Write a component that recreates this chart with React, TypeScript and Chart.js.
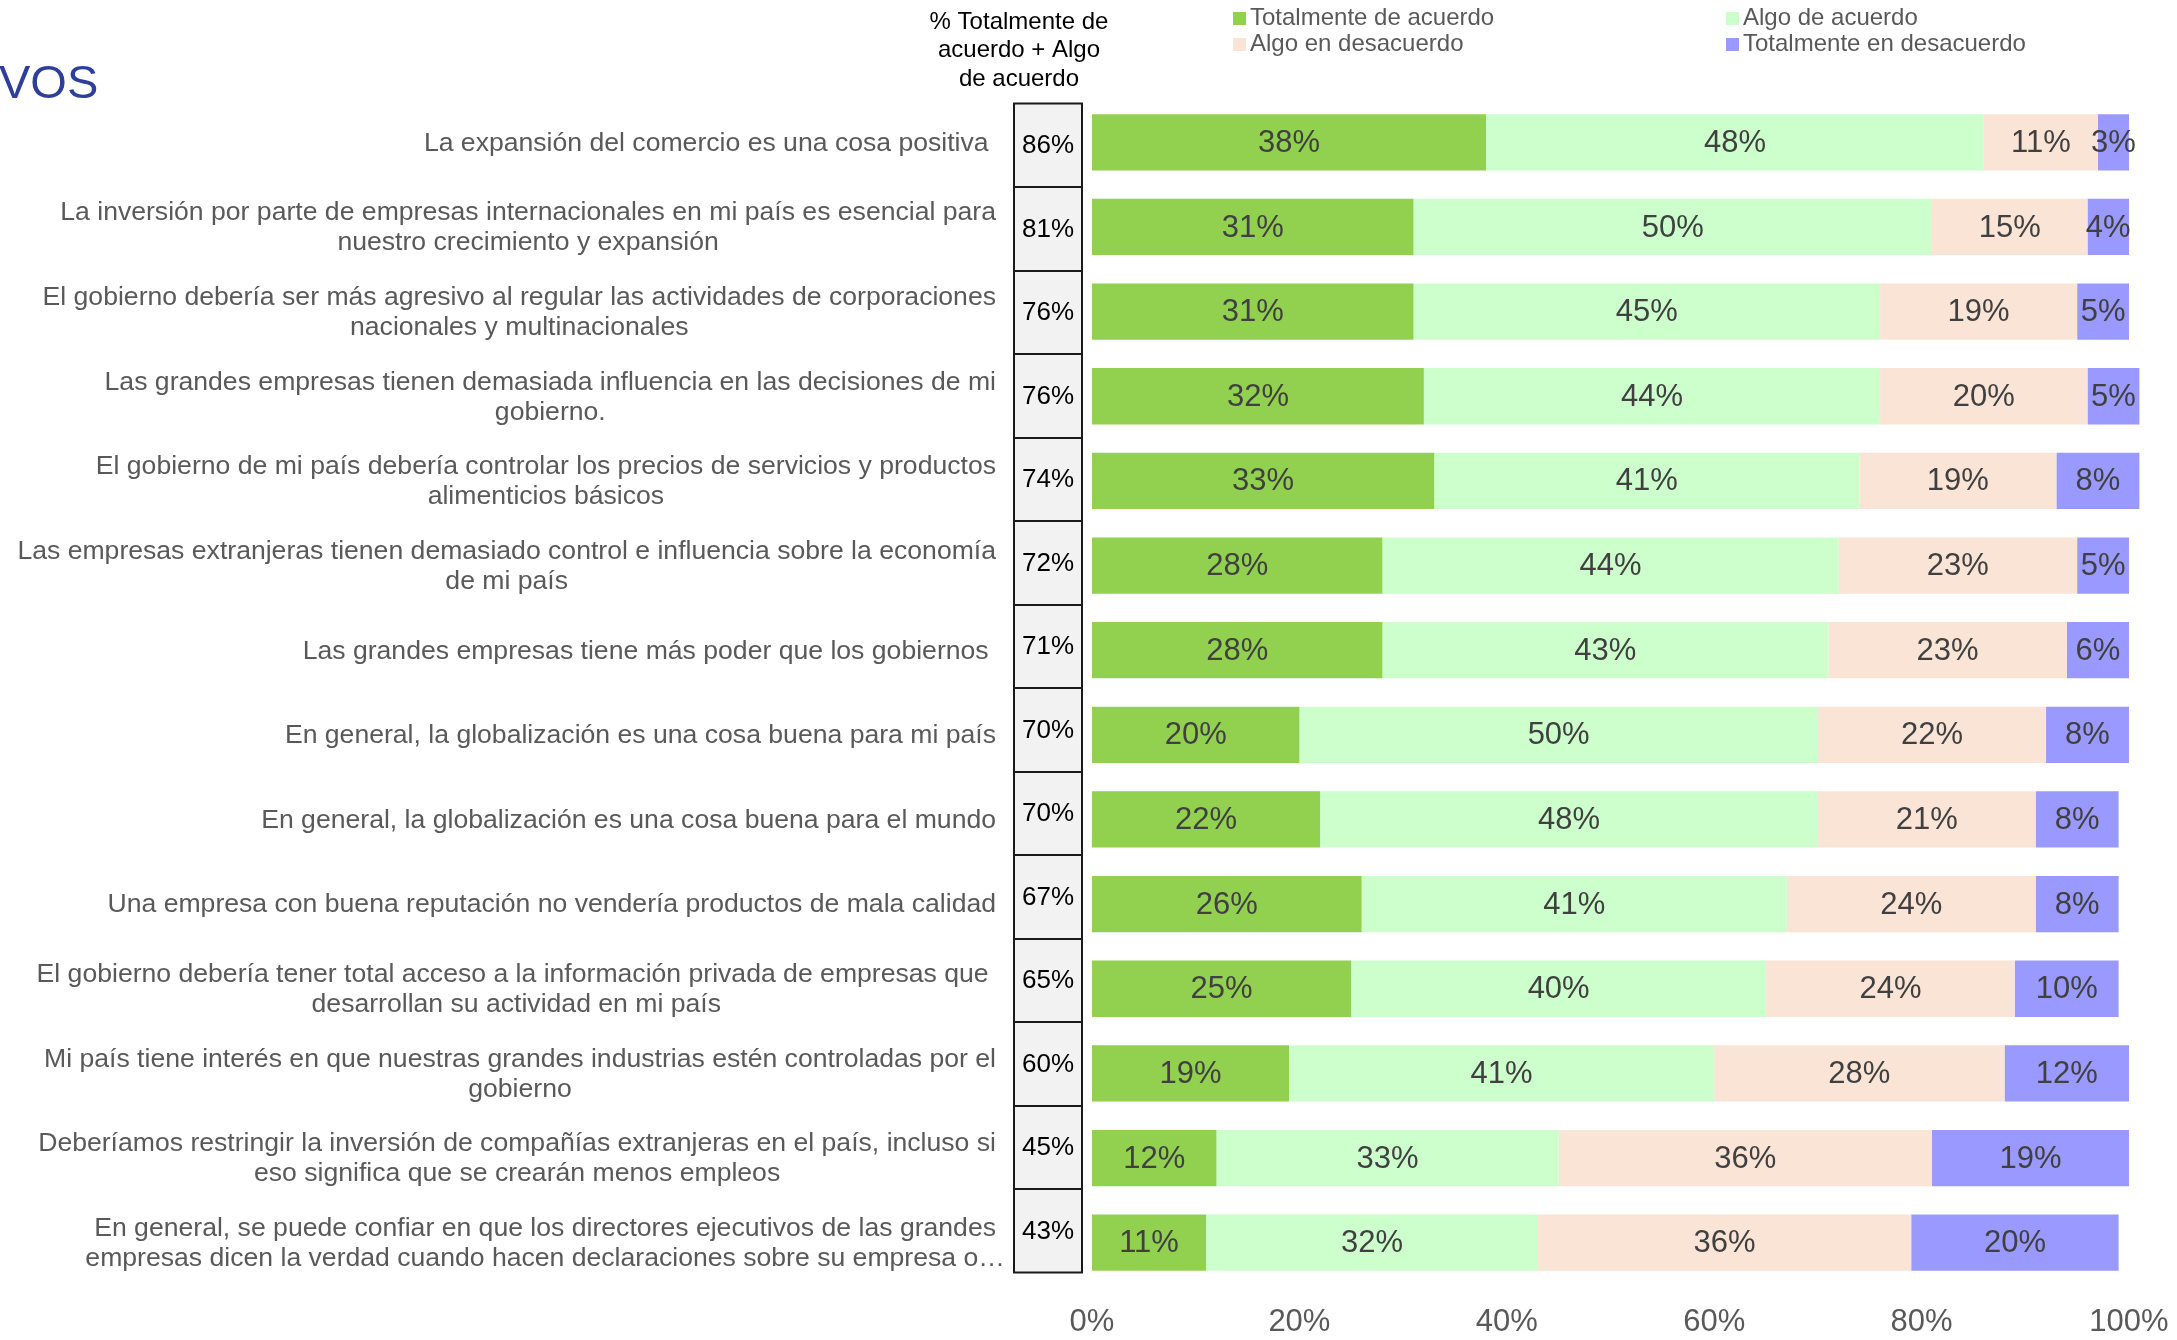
import React, { useEffect, useRef } from "react";
import { Chart, registerables } from "chart.js";

Chart.register(...registerables);

const FONT = '"Liberation Sans", Arial, Helvetica, sans-serif';

const categories: string[][] = [
  ["La expansión del comercio es una cosa positiva "],
  ["La inversión por parte de empresas internacionales en mi país es esencial para", "nuestro crecimiento y expansión"],
  ["El gobierno debería ser más agresivo al regular las actividades de corporaciones", "nacionales y multinacionales"],
  ["Las grandes empresas tienen demasiada influencia en las decisiones de mi", "gobierno."],
  ["El gobierno de mi país debería controlar los precios de servicios y productos", "alimenticios básicos"],
  ["Las empresas extranjeras tienen demasiado control e influencia sobre la economía", "de mi país"],
  ["Las grandes empresas tiene más poder que los gobiernos "],
  ["En general, la globalización es una cosa buena para mi país"],
  ["En general, la globalización es una cosa buena para el mundo"],
  ["Una empresa con buena reputación no vendería productos de mala calidad"],
  ["El gobierno debería tener total acceso a la información privada de empresas que ", "desarrollan su actividad en mi país"],
  ["Mi país tiene interés en que nuestras grandes industrias estén controladas por el", "gobierno"],
  ["Deberíamos restringir la inversión de compañías extranjeras en el país, incluso si", "eso significa que se crearán menos empleos"],
  ["En general, se puede confiar en que los directores ejecutivos de las grandes", "empresas dicen la verdad cuando hacen declaraciones sobre su empresa o…"],
];

const totalAgree = [86, 81, 76, 76, 74, 72, 71, 70, 70, 67, 65, 60, 45, 43];
const totalmenteDeAcuerdo = [38, 31, 31, 32, 33, 28, 28, 20, 22, 26, 25, 19, 12, 11];
const algoDeAcuerdo = [48, 50, 45, 44, 41, 44, 43, 50, 48, 41, 40, 41, 33, 32];
const algoEnDesacuerdo = [11, 15, 19, 20, 19, 23, 23, 22, 21, 24, 24, 28, 36, 36];
const totalmenteEnDesacuerdo = [3, 4, 5, 5, 8, 5, 6, 8, 8, 8, 10, 12, 19, 20];

const seriesNames = ["Totalmente de acuerdo", "Algo de acuerdo", "Algo en desacuerdo", "Totalmente en desacuerdo"];
const seriesColors = ["#92D050", "#CCFFCC", "#FAE4D6", "#9999FF"];
const headerLines = ["% Totalmente de", "acuerdo + Algo", "de acuerdo"];
const titleText = "VOS";

const overlayPlugin = {
  id: "overlay",
  afterDatasetsDraw(chart: any) {
    const ctx = chart.ctx as CanvasRenderingContext2D;
    ctx.save();
    ctx.font = `31px ${FONT}`;
    ctx.fillStyle = "#404040";
    ctx.textAlign = "center";
    ctx.textBaseline = "middle";
    chart.data.datasets.forEach((ds: any, di: number) => {
      const meta = chart.getDatasetMeta(di);
      meta.data.forEach((el: any, i: number) => {
        const p = el.getProps(["x", "base", "y"], true);
        ctx.fillText(ds.data[i] + "%", (p.x + p.base) / 2, p.y + 1);
      });
    });
    ctx.restore();
  },
  afterDraw(chart: any) {
    const ctx = chart.ctx as CanvasRenderingContext2D;
    const y = chart.scales.y;
    const area = chart.chartArea;
    const pitch = y.getPixelForValue(1) - y.getPixelForValue(0);
    ctx.save();

    // Title fragment
    ctx.font = `47px ${FONT}`;
    ctx.fillStyle = "#2E3F9B";
    ctx.textAlign = "left";
    ctx.textBaseline = "middle";
    ctx.fillText(titleText, -1, 85);

    // Header above boxes
    ctx.font = `24px ${FONT}`;
    ctx.fillStyle = "#000000";
    ctx.textAlign = "center";
    headerLines.forEach((t, i) => ctx.fillText(t, area.left - 73, 22 + i * 28.5));

    // Legend
    ctx.font = `24px ${FONT}`;
    ctx.textAlign = "left";
    chart.data.datasets.forEach((ds: any, i: number) => {
      const col = i % 2;
      const row = Math.floor(i / 2);
      const lx = 1233 + col * 493;
      const ly = 18 + row * 26;
      ctx.fillStyle = ds.backgroundColor;
      ctx.fillRect(lx, ly - 6, 13, 13);
      ctx.fillStyle = "#595959";
      ctx.fillText(ds.label, lx + 17, ly);
    });

    // Category labels
    ctx.font = `26.6px ${FONT}`;
    ctx.fillStyle = "#595959";
    ctx.textAlign = "center";
    const labelRight = area.left - 96;
    chart.data.labels.forEach((lines: string[], i: number) => {
      const cy = y.getPixelForValue(i);
      const w0 = ctx.measureText(lines[0]).width;
      const cx = labelRight - w0 / 2;
      const n = lines.length;
      lines.forEach((ln, k) => {
        ctx.fillText(ln, cx, cy + (k - (n - 1) / 2) * 30 + 1);
      });
    });

    // Percentage boxes
    const boxPitch = pitch * 0.9865;
    const top0 = y.getPixelForValue(0) - pitch / 2 + 3.5;
    const bx0 = area.left - 78;
    const bx1 = area.left - 10;
    ctx.fillStyle = "#F2F2F2";
    ctx.fillRect(bx0, top0, bx1 - bx0, boxPitch * totalAgree.length);
    ctx.strokeStyle = "#1a1a1a";
    ctx.lineWidth = 2;
    ctx.strokeRect(bx0, top0, bx1 - bx0, boxPitch * totalAgree.length);
    ctx.beginPath();
    for (let i = 1; i < totalAgree.length; i++) {
      const yy = Math.round(top0 + i * boxPitch);
      ctx.moveTo(bx0, yy);
      ctx.lineTo(bx1, yy);
    }
    ctx.stroke();
    ctx.font = `26px ${FONT}`;
    ctx.fillStyle = "#000000";
    ctx.textAlign = "center";
    totalAgree.forEach((v, i) => {
      ctx.fillText(v + "%", (bx0 + bx1) / 2, top0 + (i + 0.5) * boxPitch + 1);
    });

    ctx.restore();
  },
};

export default function App() {
  const ref = useRef<HTMLCanvasElement | null>(null);

  useEffect(() => {
    document.body.style.margin = "0";
    const canvas = ref.current;
    if (!canvas) return;
    const series = [totalmenteDeAcuerdo, algoDeAcuerdo, algoEnDesacuerdo, totalmenteEnDesacuerdo];
    const chart = new Chart(canvas, {
      type: "bar",
      data: {
        labels: categories as any,
        datasets: series.map((d, i) => ({
          label: seriesNames[i],
          data: d,
          backgroundColor: seriesColors[i],
          borderWidth: 0,
          categoryPercentage: 1,
          barPercentage: 0.665,
          clip: false as any,
        })),
      },
      options: {
        indexAxis: "y",
        responsive: false,
        animation: false,
        devicePixelRatio: 1,
        layout: { padding: { left: 1092, right: 48, top: 100, bottom: 0 } },
        plugins: {
          legend: { display: false },
          tooltip: { enabled: false },
          title: { display: false },
        },
        scales: {
          x: {
            stacked: true,
            min: 0,
            max: 100,
            grid: { display: false, drawTicks: false },
            border: { display: false },
            ticks: {
              stepSize: 20,
              padding: 0,
              color: "#595959",
              font: { size: 31, family: FONT, lineHeight: 2.39 },
              callback: (v: any) => v + "%",
            },
            afterFit: (s: any) => {
              s.height = 55;
            },
          },
          y: {
            stacked: true,
            display: false,
          },
        },
      },
      plugins: [overlayPlugin],
    });
    return () => chart.destroy();
  }, []);

  return (
    <div style={{ width: 2177, height: 1340, background: "#ffffff" }}>
      <canvas ref={ref} width={2177} height={1340} style={{ display: "block" }} />
    </div>
  );
}
